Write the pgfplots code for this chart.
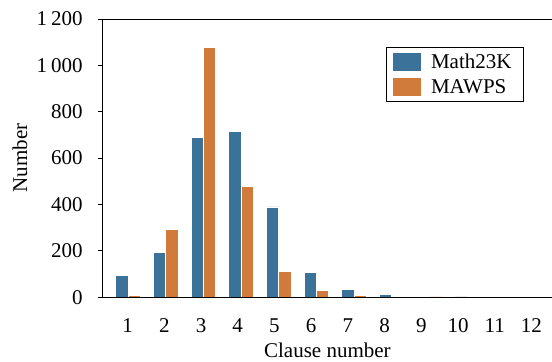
\documentclass[border=0pt]{standalone}
\usepackage{pgfplots}
\pgfplotsset{compat=1.18}
\usepackage{fontspec}
\setmainfont{Liberation Serif}
\definecolor{cblue}{HTML}{3A729A}
\definecolor{corange}{HTML}{D07A3C}
\newcommand\f{\fontsize{21bp}{25bp}\selectfont}
\begin{document}
\begin{tikzpicture}
\begin{axis}[
  scale only axis,
  width=449bp, height=278bp,
  xmin=0.33, xmax=12.25,
  ymin=0, ymax=1200,
  axis x line*=bottom,
  axis y line*=left,
  axis line style={line width=1bp, black},
  axis on top,
  ybar=0pt,
  bar width=0.327,
  xtick={0.988,1.962,2.937,3.911,4.885,5.860,6.834,7.808,8.782,9.757,10.731,11.705},
  xticklabels={1,2,3,4,5,6,7,8,9,10,11,12},
  ytick={0,200,...,1200},
  x tick style={draw=none},
  y tick style={line width=1bp, black},
  tick align=outside,
  major tick length=5bp,
  /pgf/number format/assume math mode=true,
  /pgf/number format/1000 sep={\hspace{0.18em}},
  ticklabel style={font=\f},
  xticklabel style={anchor=base, yshift=-30.7bp, inner sep=0pt},
  yticklabel style={anchor=east, inner sep=0pt, xshift=-15bp},
  xlabel={Clause number},
  ylabel={Number},
  every axis x label/.style={at={(rel axis cs:0.5,0)}, anchor=base, yshift=-60bp, font=\f},
  every axis y label/.style={at={(rel axis cs:0,0.5)}, xshift=-82.7bp, rotate=90, anchor=center, font=\f},
  legend style={
    at={(rel axis cs:0.9376,0.899)}, anchor=north east,
    font=\f, draw=black, line width=0.8bp,
    inner xsep=7bp, inner ysep=5bp,
    row sep=7.5bp, column sep=5bp,
    nodes={inner xsep=5bp, inner ysep=0bp},
  },
  legend cell align=left,
  legend image code/.code={\fill[#1, draw=none] (0bp,-9bp) rectangle (28bp,9bp);},
]
\addplot[fill=cblue, draw=white, line width=0.8bp] coordinates {
  (1,92) (2,194) (3,688) (4,713) (5,389) (6,105) (7,33) (8,12) (9,3) (10,1) (11,0) (12,0)};
\addplot[fill=corange, draw=white, line width=0.8bp] coordinates {
  (1,6) (2,291) (3,1077) (4,477) (5,112) (6,30) (7,7) (8,3) (9,1) (10,0) (11,0) (12,0)};
\legend{Math23K, MAWPS}
\draw[line width=1bp, black] (rel axis cs:0,1) -- (rel axis cs:1,1);
\coordinate (tl) at (rel axis cs:0,1);
\coordinate (br) at (rel axis cs:1,0);
\end{axis}
\pgfresetboundingbox
\path[use as bounding box] ([shift={(-102.7bp,19bp)}]tl) rectangle ([shift={(0bp,-64bp)}]br);
\end{tikzpicture}
\end{document}
